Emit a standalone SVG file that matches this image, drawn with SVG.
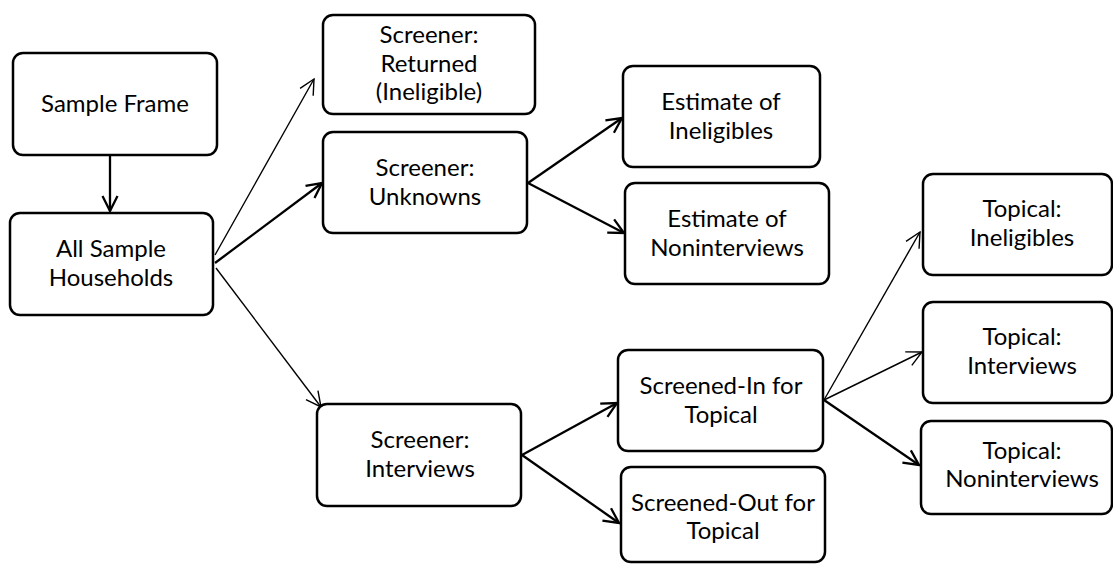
<svg xmlns="http://www.w3.org/2000/svg" width="1113" height="565" viewBox="0 0 1113 565">
<style>
.box{fill:#fff;stroke:#000;stroke-width:2.5}
.t{font-family:Lato,"Liberation Sans",sans-serif;font-size:24px;fill:#000;text-anchor:middle}
.thin{stroke:#000;stroke-width:1.4;fill:none;marker-end:url(#a1)}
.thick{stroke:#000;stroke-width:2.3;fill:none;marker-end:url(#a2)}
</style>
<defs>
<marker id="a1" markerUnits="userSpaceOnUse" viewBox="0 0 18 18" markerWidth="18" markerHeight="18" refX="16" refY="9" orient="auto">
<path d="M1,1.5 L16,9 L1,16.5" fill="none" stroke="#000" stroke-width="1.4"/>
</marker>
<marker id="a2" markerUnits="userSpaceOnUse" viewBox="0 0 18 18" markerWidth="18" markerHeight="18" refX="16" refY="9" orient="auto">
<path d="M1,1.5 L16,9 L1,16.5" fill="none" stroke="#000" stroke-width="2.3"/>
</marker>
</defs>
<g id="connectors">
<line class="thick" x1="110" y1="155" x2="110" y2="211"/>
<line class="thin" x1="215" y1="255" x2="314" y2="79"/>
<line class="thick" x1="215" y1="263" x2="322" y2="183"/>
<line class="thin" x1="216" y1="268" x2="321" y2="407"/>
<line class="thick" x1="528" y1="183" x2="622" y2="118"/>
<line class="thick" x1="528" y1="183" x2="624" y2="233"/>
<line class="thick" x1="522" y1="455" x2="617" y2="403"/>
<line class="thick" x1="522" y1="455" x2="619" y2="523"/>
<line class="thin" x1="824" y1="400" x2="920" y2="232"/>
<line class="thin" x1="824" y1="400" x2="922" y2="352"/>
<line class="thick" x1="824" y1="400" x2="919" y2="465"/>
</g>
<g id="sample-frame"><rect class="box" x="13" y="53" width="204" height="102" rx="10"/><text class="t" x="115" y="112">Sample Frame</text></g>
<g id="all-sample"><rect class="box" x="10" y="213" width="203" height="102" rx="10"/><text class="t" x="111" y="257">All Sample</text><text class="t" x="111" y="286">Households</text></g>
<g id="returned"><rect class="box" x="323" y="15" width="212" height="99" rx="10"/><text class="t" x="429" y="43">Screener:</text><text class="t" x="429" y="72">Returned</text><text class="t" x="429" y="100">(Ineligible)</text></g>
<g id="unknowns"><rect class="box" x="323" y="132" width="204" height="101" rx="10"/><text class="t" x="425" y="176">Screener:</text><text class="t" x="425" y="205">Unknowns</text></g>
<g id="est-inelig"><rect class="box" x="623" y="66" width="197" height="101" rx="10"/><text class="t" x="721" y="110">Estimate of</text><text class="t" x="721" y="139">Ineligibles</text></g>
<g id="est-nonint"><rect class="box" x="625" y="183" width="204" height="101" rx="10"/><text class="t" x="727" y="227">Estimate of</text><text class="t" x="727" y="256">Noninterviews</text></g>
<g id="interviews"><rect class="box" x="317" y="404" width="204" height="102" rx="10"/><text class="t" x="420" y="448">Screener:</text><text class="t" x="420" y="477">Interviews</text></g>
<g id="screened-in"><rect class="box" x="618" y="350" width="205" height="101" rx="10"/><text class="t" x="721" y="394">Screened-In for</text><text class="t" x="721" y="423">Topical</text></g>
<g id="screened-out"><rect class="box" x="621" y="467" width="204" height="95" rx="10"/><text class="t" x="723" y="511">Screened-Out for</text><text class="t" x="723" y="539">Topical</text></g>
<g id="topical-inelig"><rect class="box" x="923" y="174" width="189" height="101" rx="10"/><text class="t" x="1022" y="217">Topical:</text><text class="t" x="1022" y="246">Ineligibles</text></g>
<g id="topical-int"><rect class="box" x="923" y="302" width="189" height="101" rx="10"/><text class="t" x="1022" y="345">Topical:</text><text class="t" x="1022" y="374">Interviews</text></g>
<g id="topical-nonint"><rect class="box" x="921" y="421" width="191" height="93" rx="10"/><text class="t" x="1022" y="459">Topical:</text><text class="t" x="1022" y="487">Noninterviews</text></g>
</svg>
